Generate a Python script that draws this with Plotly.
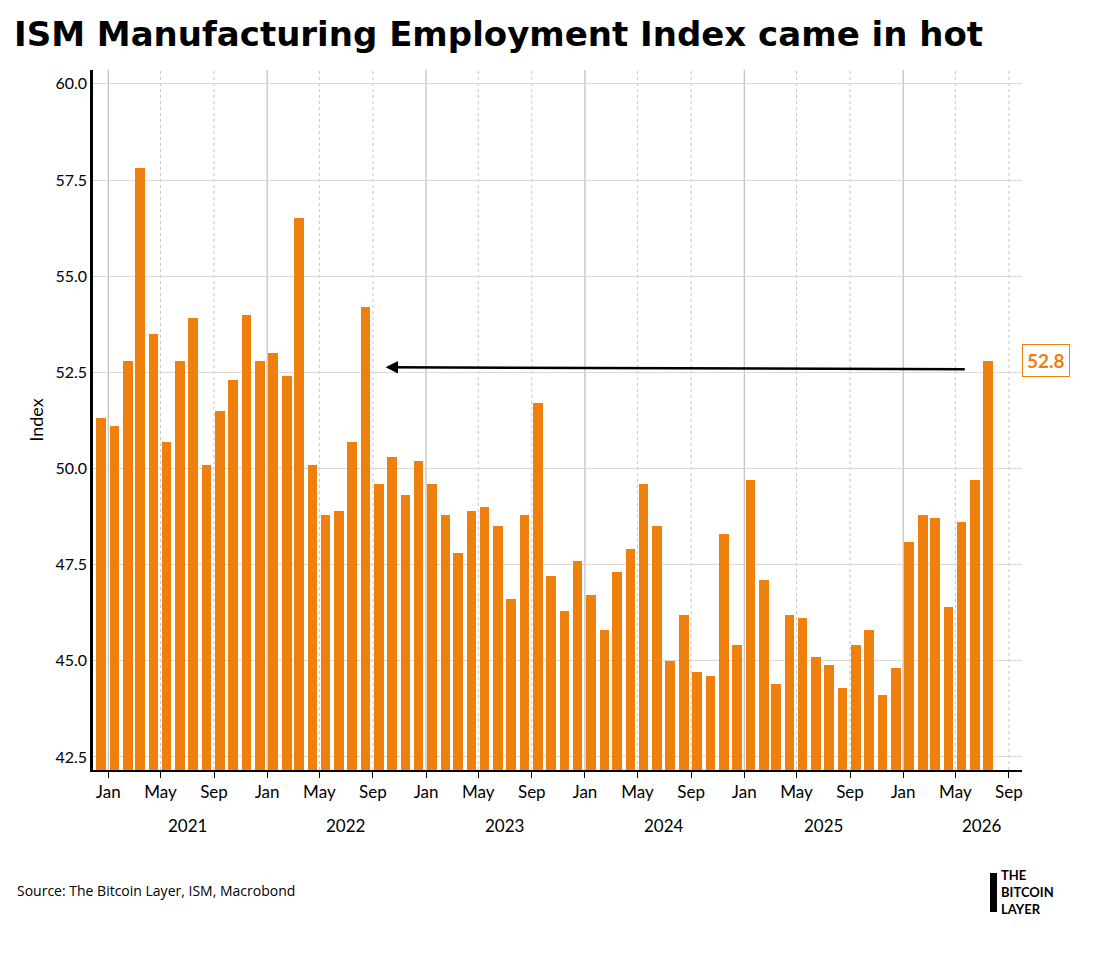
import plotly.graph_objects as go
import pandas as pd

start_month = "2020-12"
values = [51.3,51.1,52.8,57.8,53.5,50.7,52.8,53.9,50.1,51.5,52.3,54.0,52.8,53.0,52.4,56.5,
          50.1,48.8,48.9,50.7,54.2,49.6,50.3,49.3,50.2,49.6,48.8,47.8,48.9,49.0,48.5,46.6,
          48.8,51.7,47.2,46.3,47.6,46.7,45.8,47.3,47.9,49.6,48.5,45.0,46.2,44.7,44.6,48.3,
          45.4,49.7,47.1,44.4,46.2,46.1,45.1,44.9,44.3,45.4,45.8,44.1,44.8,48.1,48.8,48.7,
          46.4,48.6,49.7,52.8]
months = pd.period_range(start_month, periods=len(values), freq="M")
dates = [p.to_timestamp() + pd.Timedelta(days=14) for p in months]
year_labels = ["2021", "2022", "2023", "2024", "2025", "2026"]
last_label = "52.8"
ORANGE = "#F0800E"

fig = go.Figure(go.Bar(x=dates, y=values, marker_color=ORANGE, marker_line_width=0, width=1000*3600*24*22))

shapes = []
for y in range(2021, 2027):
    for m, dash in [(1, "solid"), (5, "dot"), (9, "dot")]:
        d = f"{y}-{m:02d}-01"
        shapes.append(dict(type="line", xref="x", yref="paper", x0=d, x1=d, y0=0, y1=1,
                           line=dict(color="#b0b0b0" if dash == "solid" else "#c4c4c4", width=1, dash=dash), layer="below"))
shapes.append(dict(type="rect", xref="paper", yref="paper", x0=(990-93)/929, x1=(997-93)/929,
                   y0=-(912-770)/700, y1=-(873-770)/700, fillcolor="black", line_width=0))
fig.update_layout(shapes=shapes)

ann = [dict(xref="x", yref="y", x=dates[20] + pd.Timedelta(days=46), y=52.63,
            ax=dates[-2] - pd.Timedelta(days=20), ay=52.58,
            axref="x", ayref="y", text="", showarrow=True, arrowhead=2, arrowsize=1, arrowwidth=2.5,
            arrowcolor="black", standoff=0, startstandoff=0)]
for i, yl in enumerate(year_labels):
    ann.append(dict(xref="x", yref="paper", x=f"{2021+i}-07-01", y=-0.079, yanchor="middle", text=yl, showarrow=False,
                    font=dict(size=17, color="black", family="Lato")))
ann.append(dict(xref="paper", yref="y", x=1.0, y=52.8, xanchor="left", text=f"<b>{last_label}</b>",
                showarrow=False, font=dict(size=19, color=ORANGE, family="Lato"),
                bordercolor=ORANGE, borderwidth=1, borderpad=4, bgcolor="white"))
ann.append(dict(xref="paper", yref="paper", x=-(93-12)/929, y=1 + (70-12)/700, xanchor="left", yanchor="top",
                text="<b>ISM Manufacturing Employment Index came in hot</b>", showarrow=False,
                font=dict(size=34, color="black", family="DejaVu Sans")))
ann.append(dict(xref="paper", yref="paper", x=-(93-15)/929, y=-(890-770)/700, xanchor="left", yanchor="middle",
                text="Source: The Bitcoin Layer, ISM, Macrobond", showarrow=False,
                font=dict(size=14, color="black", family="Open Sans")))
ann.append(dict(xref="paper", yref="paper", x=(999-93)/929, y=-(892-770)/700, xanchor="left", yanchor="middle", align="left",
                text="<b>THE<br>BITCOIN<br>LAYER</b>", showarrow=False,
                font=dict(size=13, color="black", family="Lato")))
fig.update_layout(annotations=ann)

fig.update_layout(
    width=1100, height=953, plot_bgcolor="white", paper_bgcolor="white",
    margin=dict(l=85, r=86, t=62, b=191, autoexpand=False), showlegend=False, bargap=0,
    font=dict(family="Lato", size=16, color="black"),
    xaxis=dict(type="date", range=["2020-11-27", "2026-10-01"], tickvals=[f"{y}-{m:02d}-01" for y in range(2021, 2027) for m in (1, 5, 9)],
               ticktext=["Jan", "May", "Sep"] * 6, showgrid=False, showline=True, linecolor="black", linewidth=2,
               ticks="outside", ticklen=6, tickcolor="black", tickfont=dict(size=17), automargin=False),
    yaxis=dict(range=[42.16, 60.36], tickvals=[42.5, 45, 47.5, 50, 52.5, 55, 57.5, 60],
               ticktext=["42.5", "45.0", "47.5", "50.0", "52.5", "55.0", "57.5", "60.0"],
               gridcolor="#d9d9d9", showline=True, linecolor="black", linewidth=2.5, zeroline=False,
               title=dict(text="Index", font=dict(size=18), standoff=8), tickfont=dict(size=16), automargin=False),
)
fig.write_html("out.html")
